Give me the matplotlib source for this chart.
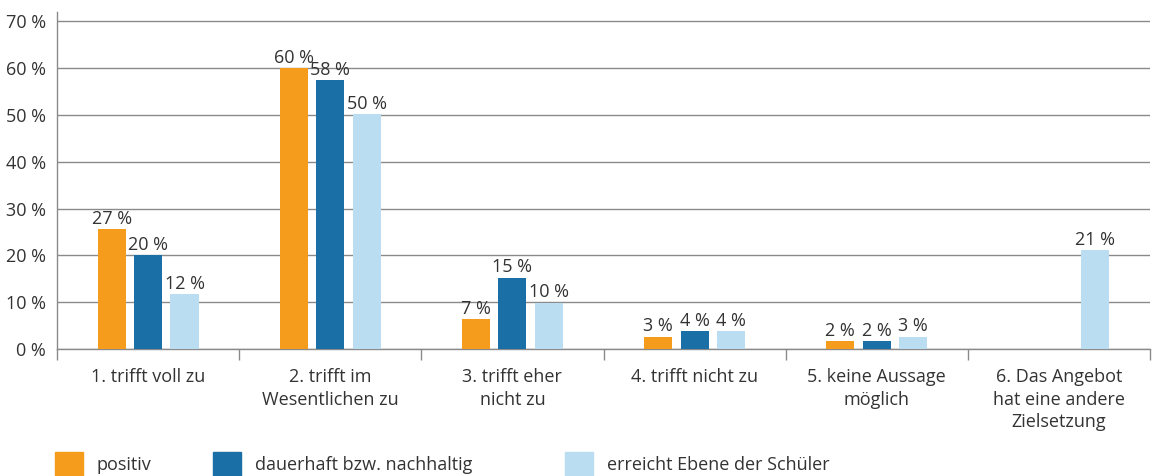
import matplotlib.pyplot as plt
import matplotlib.patches as mpatches
import numpy as np

plt.rcParams['font.family'] = ['Open Sans', 'DejaVu Sans']

categories = ['1. trifft voll zu', '2. trifft im\nWesentlichen zu', '3. trifft eher\nnicht zu',
              '4. trifft nicht zu', '5. keine Aussage\nmöglich', '6. Das Angebot\nhat eine andere\nZielsetzung']
series_names = ['positiv', 'dauerhaft bzw. nachhaltig', 'erreicht Ebene der Schüler']

positiv      = [25.6, 60.0, 6.4, 2.6, 1.7, 0.0]
dauerhaft    = [20.1, 57.4, 15.2, 3.8, 1.7, 0.0]
erreicht     = [11.7, 50.2, 9.9, 3.8, 2.6, 21.1]

positiv_lbl   = ['27 %', '60 %', '7 %', '3 %', '2 %', None]
dauerhaft_lbl = ['20 %', '58 %', '15 %', '4 %', '2 %', None]
erreicht_lbl  = ['12 %', '50 %', '10 %', '4 %', '3 %', '21 %']

colors = ['#F59C1C', '#1A70A6', '#BBDDF2']
text_color = '#333333'
grid_color = '#8a8a8a'
fs = 13

fig = plt.figure(figsize=(11.52, 4.76), dpi=100)
ax = fig.add_axes([57 / 1152, 127 / 476, 1093 / 1152, 337 / 476])

x = np.arange(len(categories))
width = 0.154
offsets = [-0.2, 0.0, 0.2]
all_vals = [positiv, dauerhaft, erreicht]
all_lbls = [positiv_lbl, dauerhaft_lbl, erreicht_lbl]

for vals, lbls, off, col in zip(all_vals, all_lbls, offsets, colors):
    ax.bar(x + off, vals, width, color=col, zorder=3)
    for xi, v, l in zip(x, vals, lbls):
        if l is not None:
            ax.text(xi + off, v + 0.3, l, ha='center', va='bottom', fontsize=fs, color=text_color, zorder=4)

ax.set_xlim(-0.5, len(categories) - 0.5)
ax.set_ylim(0, 72)
ax.set_yticks(np.arange(0, 71, 10))
ax.set_yticklabels([f'{t} %' for t in range(0, 71, 10)])
ax.yaxis.grid(True, color=grid_color, linewidth=1, zorder=0)
ax.tick_params(axis='y', length=0, labelsize=fs, labelcolor=text_color, pad=8)

ax.set_xticks(np.arange(-0.5, len(categories), 1.0))
ax.set_xticklabels([])
ax.tick_params(axis='x', length=8, color=grid_color, width=1, direction='out')
ax.set_xticks(x, minor=True)
ax.set_xticklabels(categories, minor=True, fontsize=fs, color=text_color, linespacing=1.32, va='top')
ax.tick_params(axis='x', which='minor', length=0, pad=14)

for s in ['top', 'right']:
    ax.spines[s].set_visible(False)
for s in ['left', 'bottom']:
    ax.spines[s].set_color(grid_color)
    ax.spines[s].set_linewidth(1)

# legend drawn by hand, squares run off the bottom edge as in the original
leg_x = [55, 213, 565]
for name, col, lx in zip(series_names, colors, leg_x):
    fig.add_artist(mpatches.Rectangle((lx / 1152, -4 / 476), 28 / 1152, 28 / 476,
                                      transform=fig.transFigure, color=col))
    fig.text((lx + 42) / 1152, 11 / 476, name, ha='left', va='center', fontsize=fs, color=text_color)

fig.savefig('out.png', dpi=100)
